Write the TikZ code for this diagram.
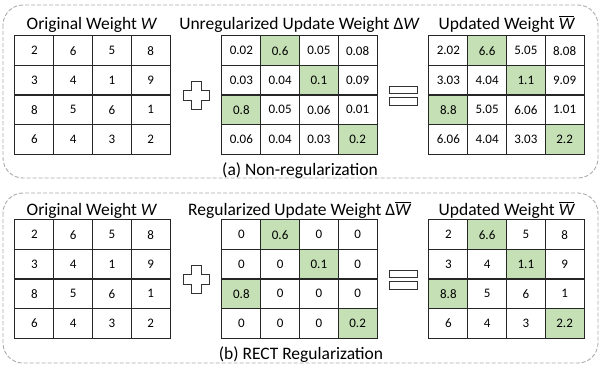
\documentclass[tikz,border=0pt]{standalone}
\usepackage{fontspec}
\setmainfont{Carlito}
\definecolor{cellgreen}{RGB}{197,224,180}
\definecolor{dashgray}{RGB}{170,170,170}
\definecolor{opgray}{RGB}{50,50,50}
\tikzset{
  cell/.style={minimum width=38.75pt, minimum height=29.5pt, inner sep=0pt,
    font=\fontsize{13}{15}\selectfont},
  cellline/.style={draw=black!85, line width=1pt},
  panel/.style={draw=dashgray, dash pattern=on 4pt off 2pt, line width=0.9pt, rounded corners=20pt},
  title/.style={font=\fontsize{17.5}{20}\selectfont, anchor=base, inner sep=0pt},
  opshape/.style={draw=opgray, line width=0.8pt, fill=white}
}
% #1 name, #2 left x, #3 top y, #4 highlight flag, #5 values
\newcommand\mymat[5]{%
  \foreach \v [count=\i from 0] in {#5} {
    \pgfmathtruncatemacro\rr{\i/4}
    \pgfmathtruncatemacro\cc{\i-4*\rr}
    \def\cf{white}
    \ifnum#4=1
      \ifnum\i=1 \def\cf{cellgreen}\fi
      \ifnum\i=6 \def\cf{cellgreen}\fi
      \ifnum\i=8 \def\cf{cellgreen}\fi
      \ifnum\i=15 \def\cf{cellgreen}\fi
    \fi
    \node[cell, fill=\cf] (#1-\rr-\cc) at ({#2+38.75*\cc+19.375}, {#3+29.5*\rr+14.75}) {\v};
  }
  \foreach \rr in {0,...,3} {
    \foreach \cc in {0,...,3} {
      \draw[cellline] (#1-\rr-\cc.north west) rectangle (#1-\rr-\cc.south east);
    }
  }
}
\newcommand\plussign[2]{%
  \draw[opshape] (#1-5,#2-14) -- (#1+5,#2-14) -- (#1+5,#2-5) -- (#1+13,#2-5)
    -- (#1+13,#2+5) -- (#1+5,#2+5) -- (#1+5,#2+14) -- (#1-5,#2+14)
    -- (#1-5,#2+5) -- (#1-13,#2+5) -- (#1-13,#2-5) -- (#1-5,#2-5) -- cycle;
}
\newcommand\eqsign[2]{%
  \draw[opshape] (#1-14,#2-9) rectangle (#1+14,#2-2);
  \draw[opshape] (#1-14,#2+2) rectangle (#1+14,#2+10);
}
\begin{document}
\begin{tikzpicture}[x=1pt,y=-1pt]
\useasboundingbox (0,0) rectangle (600,367);
% panels
\draw[panel] (3,5) rectangle (598,178);
\draw[panel] (3,193) rectangle (598,363);

% ---- top panel ----
\node[title] (t1) at (92,29) {Original Weight \textit{W}};
\node[title] (t2) at (299.5,29) {Unregularized Update Weight Δ\textit{W}};
\node[title] (t3) at (506.5,29) {Updated Weight $\overline{\mbox{\itshape W}}$};
\mymat{a1}{15}{36}{0}{2,6,5,8,3,4,1,9,8,5,6,1,6,4,3,2}
\mymat{a2}{222}{36}{1}{0.02,0.6,0.05,0.08,0.03,0.04,0.1,0.09,0.8,0.05,0.06,0.01,0.06,0.04,0.03,0.2}
\mymat{a3}{429}{36}{1}{2.02,6.6,5.05,8.08,3.03,4.04,1.1,9.09,8.8,5.05,6.06,1.01,6.06,4.04,3.03,2.2}
\plussign{196}{95}
\eqsign{403}{95}
\node[title] (capa) at (300,175) {(a) Non-regularization};

% ---- bottom panel ----
\node[title] (b1) at (92,215) {Original Weight \textit{W}};
\node[title] (b2) at (299.5,215) {Regularized Update Weight Δ$\overline{\mbox{\itshape W}}$};
\node[title] (b3) at (506.5,215) {Updated Weight $\overline{\mbox{\itshape W}}$};
\mymat{c1}{15}{220}{0}{2,6,5,8,3,4,1,9,8,5,6,1,6,4,3,2}
\mymat{c2}{222}{220}{1}{0,0.6,0,0,0,0,0.1,0,0.8,0,0,0,0,0,0,0.2}
\mymat{c3}{429}{220}{1}{2,6.6,5,8,3,4,1.1,9,8.8,5,6,1,6,4,3,2.2}
\plussign{196}{279}
\eqsign{403}{279}
\node[title] (capb) at (301,359) {(b) RECT Regularization};
\end{tikzpicture}
\end{document}
